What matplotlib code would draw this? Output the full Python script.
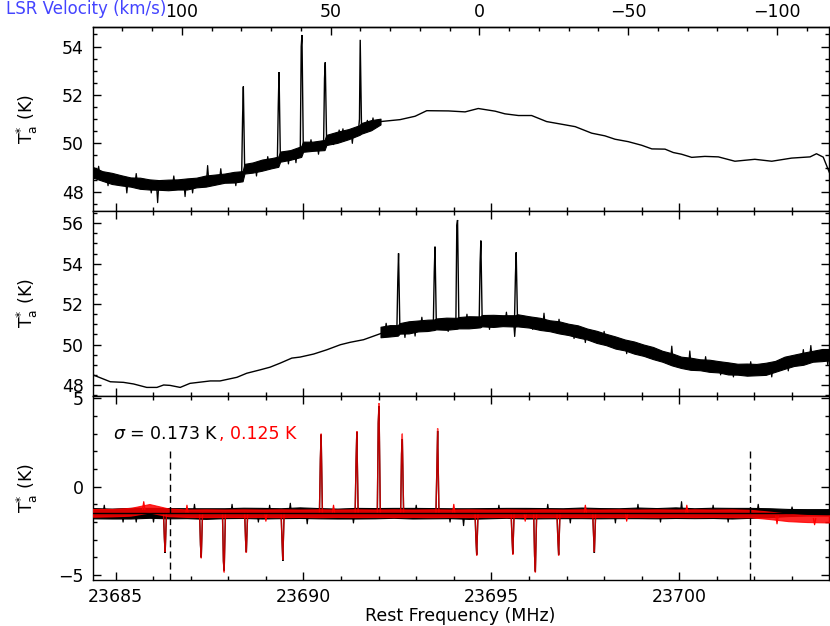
import matplotlib
matplotlib.use('Agg')
import matplotlib.pyplot as plt
from matplotlib.ticker import MultipleLocator
import numpy as np

# ---------------- data ----------------
# velocity axis relation (from the tick positions)
vel_zero_freq = 23694.68   # MHz at 0 km/s
mhz_per_kms = 0.07914

# ---- panel 1 (upper raw spectrum) ----
p1_smooth_freq = [23692.05, 23692.57, 23692.97, 23693.28, 23693.86, 23694.30, 23694.65,
                  23695.10, 23695.36, 23695.72, 23696.07, 23696.47, 23696.87, 23697.23,
                  23697.67, 23698.02, 23698.29, 23698.64, 23699.00, 23699.27, 23699.62,
                  23699.84, 23700.06, 23700.33, 23700.68, 23701.04, 23701.48, 23702.01,
                  23702.46, 23702.99, 23703.48, 23703.65, 23703.83, 23704.00]
p1_smooth_temp = [50.90, 50.98, 51.12, 51.35, 51.34, 51.30, 51.44,
                  51.33, 51.22, 51.15, 51.15, 50.90, 50.79, 50.69,
                  50.42, 50.31, 50.17, 50.07, 49.92, 49.77, 49.76,
                  49.62, 49.55, 49.42, 49.46, 49.44, 49.26, 49.34,
                  49.26, 49.39, 49.44, 49.57, 49.43, 48.77]
p1_noise_freq = [23684.40, 23684.65, 23684.90, 23685.15, 23685.40, 23685.65, 23685.90,
                 23686.15, 23686.40, 23686.65, 23686.90, 23687.15, 23687.40, 23687.65,
                 23687.90, 23688.15, 23688.38, 23688.43, 23688.65, 23688.90, 23689.15,
                 23689.33, 23689.38, 23689.65, 23689.94, 23689.99, 23690.25, 23690.56,
                 23690.61, 23690.90, 23691.20, 23691.49, 23691.54, 23691.80, 23692.05]
p1_noise_center = [48.80, 48.65, 48.55, 48.47, 48.40, 48.35, 48.30,
                   48.28, 48.28, 48.30, 48.32, 48.38, 48.44, 48.50,
                   48.56, 48.60, 48.64, 48.95, 49.00, 49.10, 49.18,
                   49.24, 49.45, 49.52, 49.66, 49.86, 49.88, 49.93,
                   50.14, 50.25, 50.38, 50.55, 50.62, 50.75, 50.90]
p1_noise_half = [0.22, 0.20, 0.23, 0.21, 0.19, 0.23, 0.21,
                 0.20, 0.22, 0.21, 0.23, 0.20, 0.23, 0.21,
                 0.19, 0.22, 0.21, 0.20, 0.21, 0.23, 0.21,
                 0.21, 0.21, 0.20, 0.22, 0.21, 0.19, 0.21,
                 0.21, 0.23, 0.21, 0.20, 0.22, 0.21, 0.12]
p1_line_freq = [23688.40, 23689.35, 23689.96, 23690.58, 23691.51]
p1_line_base = [48.62, 49.24, 49.66, 49.93, 50.55]
p1_line_shoulder = [51.06, 51.59, 54.00, 52.69, 51.00]
p1_line_peak = [52.35, 52.94, 54.48, 53.35, 54.28]
p1_line_after = [48.97, 49.45, 49.86, 50.14, 50.62]
p1_spike_freq = [23686.12, 23686.85, 23687.45, 23685.30, 23689.80, 23690.95, 23691.70,
                 23684.55, 23684.80, 23685.55, 23685.95, 23686.55, 23687.05, 23687.80,
                 23688.20, 23688.75, 23689.05, 23689.60, 23690.20, 23690.40, 23690.80,
                 23691.05, 23691.30, 23691.85]
p1_spike_temp = [47.55, 47.80, 49.08, 47.95, 49.20, 50.55, 50.95,
                 49.05, 48.25, 48.75, 47.95, 48.65, 47.95, 48.95,
                 48.25, 48.65, 49.45, 49.15, 50.15, 49.55, 49.95,
                 50.60, 50.00, 51.05]

# ---- panel 2 (lower raw spectrum) ----
p2_smooth_freq = [23684.40, 23684.86, 23685.21, 23685.48, 23685.83, 23686.10, 23686.28,
                  23686.45, 23686.72, 23686.98, 23687.52, 23687.78, 23688.23, 23688.49,
                  23688.85, 23689.11, 23689.38, 23689.69, 23689.91, 23690.27, 23690.62,
                  23690.98, 23691.24, 23691.60, 23692.05]
p2_smooth_temp = [48.50, 48.16, 48.13, 48.05, 47.88, 47.88, 48.00,
                  47.98, 47.88, 48.08, 48.20, 48.20, 48.38, 48.58,
                  48.75, 48.88, 49.08, 49.33, 49.38, 49.53, 49.74,
                  49.99, 50.11, 50.24, 50.54]
p2_noise_freq = [23692.05, 23692.30, 23692.51, 23692.56, 23692.80, 23693.05, 23693.30,
                 23693.48, 23693.53, 23693.80, 23694.08, 23694.13, 23694.40, 23694.70,
                 23694.75, 23695.05, 23695.30, 23695.64, 23695.69, 23696.00, 23696.30,
                 23696.55, 23696.80, 23697.05, 23697.30, 23697.55, 23697.80, 23698.05,
                 23698.30, 23698.55, 23698.80, 23699.05, 23699.30, 23699.55, 23699.80,
                 23700.05, 23700.30, 23700.55, 23700.80, 23701.05, 23701.30, 23701.55,
                 23701.80, 23702.05, 23702.30, 23702.55, 23702.80, 23703.05, 23703.30,
                 23703.55, 23703.80, 23704.00]
p2_noise_center = [50.62, 50.68, 50.70, 50.80, 50.85, 50.92, 50.95,
                   50.98, 51.02, 51.03, 51.05, 51.08, 51.10, 51.12,
                   51.18, 51.17, 51.18, 51.17, 51.20, 51.12, 51.02,
                   50.93, 50.85, 50.75, 50.65, 50.52, 50.38, 50.25,
                   50.10, 49.98, 49.85, 49.72, 49.58, 49.42, 49.27,
                   49.12, 49.05, 49.00, 48.95, 48.90, 48.82, 48.78,
                   48.76, 48.76, 48.80, 48.92, 49.10, 49.22, 49.30,
                   49.42, 49.48, 49.50]
p2_noise_half = [0.26, 0.28, 0.26, 0.26, 0.30, 0.27, 0.28,
                 0.26, 0.27, 0.30, 0.27, 0.28, 0.30, 0.27,
                 0.28, 0.30, 0.27, 0.28, 0.30, 0.28, 0.30,
                 0.27, 0.30, 0.28, 0.30, 0.27, 0.30, 0.28,
                 0.30, 0.27, 0.30, 0.28, 0.30, 0.27, 0.30,
                 0.28, 0.30, 0.27, 0.30, 0.28, 0.30, 0.27,
                 0.30, 0.28, 0.30, 0.27, 0.30, 0.28, 0.30,
                 0.27, 0.30, 0.28]
p2_line_freq = [23692.53, 23693.50, 23694.10, 23694.72, 23695.66]
p2_line_base = [50.70, 50.98, 51.05, 51.12, 51.17]
p2_line_shoulder = [53.19, 53.60, 55.90, 54.05, 53.40]
p2_line_peak = [54.51, 54.84, 56.16, 55.14, 54.56]
p2_line_after = [50.80, 51.02, 51.08, 51.18, 51.20]
p2_spike_freq = [23692.97, 23695.62, 23699.80, 23700.28, 23701.44, 23702.46,
                 23696.40, 23697.20, 23703.50, 23698.60,
                 23692.20, 23692.70, 23693.15, 23693.85, 23694.35, 23694.95,
                 23695.40, 23696.10, 23696.80, 23697.50, 23698.00, 23699.20,
                 23700.70, 23701.10, 23701.90, 23702.90, 23703.30, 23703.95]
p2_spike_temp = [50.42, 50.40, 49.92, 49.68, 48.40, 48.40,
                 51.55, 50.30, 49.95, 49.55,
                 51.05, 50.35, 51.35, 50.65, 51.50, 50.75,
                 51.60, 50.75, 51.25, 50.10, 50.65, 49.35,
                 49.40, 48.50, 49.15, 48.70, 49.75, 49.00]

# ---- panel 3 (folded spectra, black and red) ----
p3_baseline = -1.5
p3_noise_freq = [23684.4, 23684.9, 23685.4, 23685.9, 23686.4, 23686.9, 23687.4, 23687.9,
                 23688.4, 23688.9, 23689.4, 23689.9, 23690.4, 23690.9, 23691.4, 23691.9,
                 23692.4, 23692.9, 23693.4, 23693.9, 23694.4, 23694.9, 23695.4, 23695.9,
                 23696.4, 23696.9, 23697.4, 23697.9, 23698.4, 23698.9, 23699.4, 23699.9,
                 23700.4, 23700.9, 23701.4, 23701.9, 23702.4, 23702.9, 23703.4, 23703.9,
                 23704.0]
p3_black_center = [-1.50, -1.52, -1.50, -1.48, -1.50, -1.50, -1.52, -1.50,
                   -1.48, -1.50, -1.50, -1.47, -1.50, -1.52, -1.50, -1.50,
                   -1.48, -1.50, -1.50, -1.50, -1.52, -1.50, -1.48, -1.50,
                   -1.50, -1.50, -1.48, -1.50, -1.50, -1.48, -1.50, -1.47,
                   -1.50, -1.48, -1.50, -1.48, -1.47, -1.46, -1.45, -1.45,
                   -1.45]
p3_black_half = [0.29, 0.28, 0.30, 0.28, 0.29, 0.28, 0.30, 0.28,
                 0.29, 0.30, 0.28, 0.30, 0.29, 0.28, 0.30, 0.29,
                 0.28, 0.30, 0.29, 0.28, 0.30, 0.29, 0.28, 0.30,
                 0.29, 0.28, 0.30, 0.29, 0.28, 0.30, 0.29, 0.30,
                 0.28, 0.29, 0.30, 0.28, 0.25, 0.20, 0.18, 0.18,
                 0.18]
p3_red_center = [-1.48, -1.47, -1.42, -1.22, -1.45, -1.50, -1.50, -1.50,
                 -1.50, -1.50, -1.50, -1.50, -1.50, -1.50, -1.50, -1.50,
                 -1.50, -1.50, -1.50, -1.50, -1.50, -1.50, -1.50, -1.50,
                 -1.50, -1.50, -1.50, -1.50, -1.50, -1.50, -1.50, -1.50,
                 -1.50, -1.50, -1.50, -1.52, -1.62, -1.74, -1.80, -1.82,
                 -1.82]
p3_red_half = [0.22, 0.21, 0.22, 0.24, 0.22, 0.21, 0.22, 0.21,
               0.22, 0.21, 0.22, 0.21, 0.22, 0.21, 0.22, 0.21,
               0.22, 0.21, 0.22, 0.21, 0.22, 0.21, 0.22, 0.21,
               0.22, 0.21, 0.22, 0.21, 0.22, 0.21, 0.22, 0.21,
               0.22, 0.21, 0.22, 0.21, 0.21, 0.21, 0.20, 0.20,
               0.20]
p3_line_freq = [23690.47, 23691.42, 23692.01, 23692.63, 23693.57,
                23686.32, 23687.28, 23687.89, 23688.48, 23689.45,
                23694.61, 23695.57, 23696.17, 23696.79, 23697.74]
p3_black_shoulder = [1.55, 1.45, 3.60, 1.85, 1.00,
                     -2.95, -3.30, -4.20, -3.00, -3.10,
                     -3.00, -2.90, -3.90, -3.00, -2.80]
p3_black_peak = [2.95, 3.10, 4.55, 2.70, 3.15,
                 -3.75, -4.00, -4.75, -3.70, -4.20,
                 -3.85, -3.80, -4.80, -3.85, -3.75]
p3_red_shoulder = [1.60, 1.50, 3.70, 2.00, 1.10,
                   -2.90, -3.25, -4.25, -3.05, -3.05,
                   -3.05, -2.95, -3.95, -3.05, -2.75]
p3_red_peak = [3.00, 3.15, 4.72, 3.00, 3.30,
               -3.70, -4.05, -4.85, -3.75, -4.15,
               -3.90, -3.85, -4.85, -3.90, -3.70]
p3_spike_freq = [23686.01, 23689.65, 23691.33, 23694.26, 23700.06, 23685.55,
                 23687.10, 23698.30, 23702.10, 23690.10,
                 23684.70, 23685.20, 23688.10, 23688.80, 23689.10, 23693.00,
                 23693.90, 23695.20, 23696.50, 23697.10, 23698.90, 23699.50,
                 23700.90, 23701.30, 23703.00]
p3_spike_temp = [-2.00, -0.94, -2.05, -2.20, -0.85, -2.00,
                 -1.00, -2.05, -1.00, -2.10,
                 -1.05, -2.00, -1.00, -2.00, -1.05, -1.05,
                 -2.00, -1.05, -1.00, -2.05, -1.00, -2.00,
                 -1.05, -2.00, -1.15]
p3_red_spike_freq = [23685.75, 23686.90, 23689.00, 23690.80, 23694.00, 23695.90,
                     23697.50, 23698.60, 23700.20, 23702.60, 23703.60]
p3_red_spike_temp = [-0.85, -1.05, -1.95, -1.05, -1.00, -1.95,
                     -1.05, -1.95, -1.05, -2.10, -2.15]
p3_marker_freq = [23686.45, 23701.87]
p3_marker_top = 2.0
sigma_black = 0.173
sigma_red = 0.125

# ---------------- plotting ----------------
FS = 12.5
plt.rcParams['font.family'] = ['DejaVu Sans']
plt.rcParams['font.size'] = FS
plt.rcParams['mathtext.fontset'] = 'dejavusans'

W, H = 830, 626
fig = plt.figure(figsize=(W / 100, H / 100), dpi=100)

left = 93 / W
right = 828.5 / W
edges = [27, 211.3, 395.7, 580]
axes = []
for i in range(3):
    top = 1 - edges[i] / H
    bot = 1 - edges[i + 1] / H
    axes.append(fig.add_axes([left, bot, right - left, top - bot]))
ax1, ax2, ax3 = axes

xlim = (23684.40, 23703.97)
LW = 1.0
spike_w = 0.03


def draw_band(ax, f, c, h, color, z, alpha=1.0):
    c = np.asarray(c)
    h = np.asarray(h)
    ax.fill_between(f, c - h, c + h, color=color, lw=0.8, edgecolor=color,
                    zorder=z, alpha=alpha)


def draw_lines(ax, freqs, base, shoulder, peak, after, color, z, alpha=1.0):
    for f, b, s, p, a in zip(freqs, base, shoulder, peak, after):
        ax.plot([f - 0.045, f - 0.02, f, f + 0.035], [b, s, p, a],
                color=color, lw=LW, zorder=z, alpha=alpha, solid_joinstyle='miter')


def draw_spikes(ax, freqs, vals, nf, nc, color, z):
    for f, v in zip(freqs, vals):
        b = np.interp(f, nf, nc)
        ax.plot([f - spike_w, f, f + spike_w], [b, v, b], color=color, lw=LW * 0.9, zorder=z)


# panel 1
ax1.plot(p1_smooth_freq, p1_smooth_temp, color='black', lw=LW, zorder=3)
draw_band(ax1, p1_noise_freq, p1_noise_center, p1_noise_half, 'black', 3)
draw_lines(ax1, p1_line_freq, p1_line_base, p1_line_shoulder, p1_line_peak, p1_line_after, 'black', 4)
draw_spikes(ax1, p1_spike_freq, p1_spike_temp, p1_noise_freq, p1_noise_center, 'black', 3)

# panel 2
ax2.plot(p2_smooth_freq, p2_smooth_temp, color='black', lw=LW, zorder=3)
draw_band(ax2, p2_noise_freq, p2_noise_center, p2_noise_half, 'black', 3)
draw_lines(ax2, p2_line_freq, p2_line_base, p2_line_shoulder, p2_line_peak, p2_line_after, 'black', 4)
draw_spikes(ax2, p2_spike_freq, p2_spike_temp, p2_noise_freq, p2_noise_center, 'black', 3)

# panel 3
base3 = [p3_baseline] * len(p3_line_freq)
draw_band(ax3, p3_noise_freq, p3_black_center, p3_black_half, 'black', 2)
draw_spikes(ax3, p3_spike_freq, p3_spike_temp, p3_noise_freq, p3_black_center, 'black', 2)
draw_lines(ax3, p3_line_freq, base3, p3_black_shoulder, p3_black_peak, base3, 'black', 3)
draw_band(ax3, p3_noise_freq, p3_red_center, p3_red_half, '#ff0000', 4, alpha=0.85)
draw_spikes(ax3, p3_red_spike_freq, p3_red_spike_temp, p3_noise_freq, p3_red_center, '#ff0000', 4)
draw_lines(ax3, p3_line_freq, base3, p3_red_shoulder, p3_red_peak, base3, '#ff0000', 5, alpha=0.75)
ax3.axhline(p3_baseline, color='black', lw=LW, zorder=6)
for f in p3_marker_freq:
    ax3.plot([f, f], [p3_marker_top, -5.28], color='black', lw=LW,
             dashes=(5, 3), zorder=6)

t1 = ax3.text(23684.93, 3.0, r'$\sigma$ = %.3f K' % sigma_black, color='black',
              ha='left', va='center', fontsize=FS, zorder=7)
ax3.annotate(', %.3f K' % sigma_red, xy=(1, 0.5), xycoords=t1, ha='left', va='center',
             color='#ff0000', fontsize=FS, zorder=7)

# axes formatting
ylims = [(47.19, 54.81), (47.47, 56.59), (-5.28, 5.15)]
ymaj = [2, 2, 5]
ymin = [0.5, 0.5, 1]
for ax, yl, ma, mi in zip(axes, ylims, ymaj, ymin):
    ax.set_xlim(*xlim)
    ax.set_ylim(*yl)
    ax.xaxis.set_major_locator(MultipleLocator(5))
    ax.xaxis.set_minor_locator(MultipleLocator(1))
    ax.yaxis.set_major_locator(MultipleLocator(ma))
    ax.yaxis.set_minor_locator(MultipleLocator(mi))
    ax.tick_params(which='both', direction='in', left=True, right=True,
                   top=True, bottom=True, width=1.0, labelsize=FS)
    ax.tick_params(which='major', length=5.5, pad=6.5)
    ax.tick_params(which='minor', length=3.2)
    for s in ax.spines.values():
        s.set_linewidth(1.0)
    ax.set_ylabel(r'T$_{\mathregular{a}}^{*}$ (K)', fontsize=FS)
    ax.yaxis.set_label_coords(-0.072, 0.5)
    ax.ticklabel_format(axis='x', useOffset=False, style='plain')

ax1.tick_params(axis='x', which='both', top=False, labelbottom=False)
ax2.tick_params(axis='x', which='both', labelbottom=False)
ax3.tick_params(axis='x', which='major', pad=6)

# top velocity axis
sec = ax1.secondary_xaxis('top',
                          functions=(lambda f: (vel_zero_freq - f) / mhz_per_kms,
                                     lambda v: vel_zero_freq - v * mhz_per_kms))
sec.xaxis.set_major_locator(MultipleLocator(50))
sec.xaxis.set_minor_locator(MultipleLocator(10))
sec.tick_params(which='both', direction='in', width=1.0, labelsize=FS)
sec.tick_params(which='major', length=5.5, pad=4)
sec.tick_params(which='minor', length=3.2)
sec.spines['top'].set_linewidth(1.0)

fig.text(166 / W, 1 - 9 / H, 'LSR Velocity (km/s)', color='#4444ff',
         ha='right', va='center', fontsize=12)
fig.text((93 + 828) / 2 / W, 1 - 616 / H, 'Rest Frequency (MHz)',
         ha='center', va='center', fontsize=FS)

fig.savefig('out.png', dpi=100)
